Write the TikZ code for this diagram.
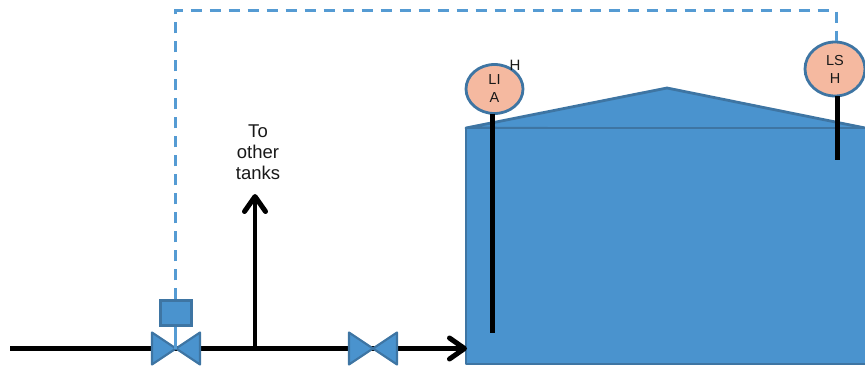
\documentclass[tikz,border=0pt]{standalone}
\usepackage{fontspec}
\setmainfont{Liberation Sans}
\usetikzlibrary{arrows.meta,shapes.geometric}
\definecolor{tankfill}{HTML}{4A93CE}
\definecolor{tankedge}{HTML}{3E75A3}
\definecolor{instfill}{HTML}{F5B9A0}
\definecolor{signalline}{HTML}{559BD3}
\tikzset{
  x=1pt,y=-1pt,
  tankshape/.style={fill=tankfill,draw=tankedge,line width=2.8pt,line join=round},
  instrument/.style={ellipse,fill=instfill,draw=tankedge,line width=2.8pt,inner sep=0pt,align=center,
    font=\fontsize{14.5}{18}\selectfont,text=black!90},
  pipe/.style={draw=black,line width=4.4pt},
  pipearrow/.style={pipe,-{Straight Barb[length=15pt,width=21pt,line width=5pt,round]}},
  probe/.style={draw=black,line width=5pt},
  signal/.style={draw=signalline,line width=3pt,dash pattern=on 11pt off 8pt},
  stem/.style={draw=signalline,line width=3pt},
  label/.style={font=\fontsize{18.5}{21}\selectfont,align=center,text=black!90,inner sep=0pt},
}
\begin{document}
\begin{tikzpicture}
\useasboundingbox (0,0) rectangle (865,369);
\clip (0,0) rectangle (865,369);
% named points
\coordinate (linestart) at (10,348.5);
\coordinate (tee) at (255,348.5);
\coordinate (valveA) at (176,348.5);
\coordinate (valveB) at (373,348.5);
\coordinate (tankinlet) at (467,348.5);
\coordinate (arrowtop) at (255,194);
\coordinate (liaend) at (492,333);
\coordinate (lshend) at (837,160);
\coordinate (cornerA) at (175,11);
\coordinate (cornerB) at (836,11);
% tank
\draw[tankshape] (466,128) -- (667,88) -- (875,130) -- cycle;
\draw[tankshape] (466,128) rectangle (875,364);
% pipes
\draw[pipe] (linestart) -- (tee);
\draw[pipe] (tee) -- (valveB);
\draw[pipearrow] (valveB) -- (tankinlet);
\draw[pipearrow] (tee) -- (arrowtop);
% instruments
\node[instrument,minimum width=57pt,minimum height=49pt] (lia) at (494.5,89) {LI\\A};
\node[instrument,minimum width=60pt,minimum height=54pt] (lsh) at (835,69) {LS\\H};
\draw[probe] (492,113.5) -- (liaend);
\draw[probe] (837,96) -- (lshend);
% actuator
\node[draw=tankedge,fill=tankfill,line width=2.4pt,minimum width=31pt,minimum height=25pt,inner sep=0pt] (act) at (176,313) {};
\draw[signal] (act.north -| cornerA) -- (cornerA) -- (cornerB) -- (lsh.north -| cornerB);
% valves
\draw[tankshape,line width=2.2pt] (valveA) -- ++(-24,-16) -- ++(0,32) -- cycle;
\draw[tankshape,line width=2.2pt] (valveA) -- ++(24,-16) -- ++(0,32) -- cycle;
\draw[tankshape,line width=2.2pt] (valveB) -- ++(-24,-16) -- ++(0,32) -- cycle;
\draw[tankshape,line width=2.2pt] (valveB) -- ++(24,-16) -- ++(0,32) -- cycle;
\draw[stem] (act.south -| cornerA) -- (valveA -| cornerA);
% labels
\node[label] (tolabel) at (258,152) {To\\other\\tanks};
\node[font=\fontsize{15}{18}\selectfont,text=black!90,inner sep=0pt] (hlabel) at (515,65) {H};
\end{tikzpicture}
\end{document}
